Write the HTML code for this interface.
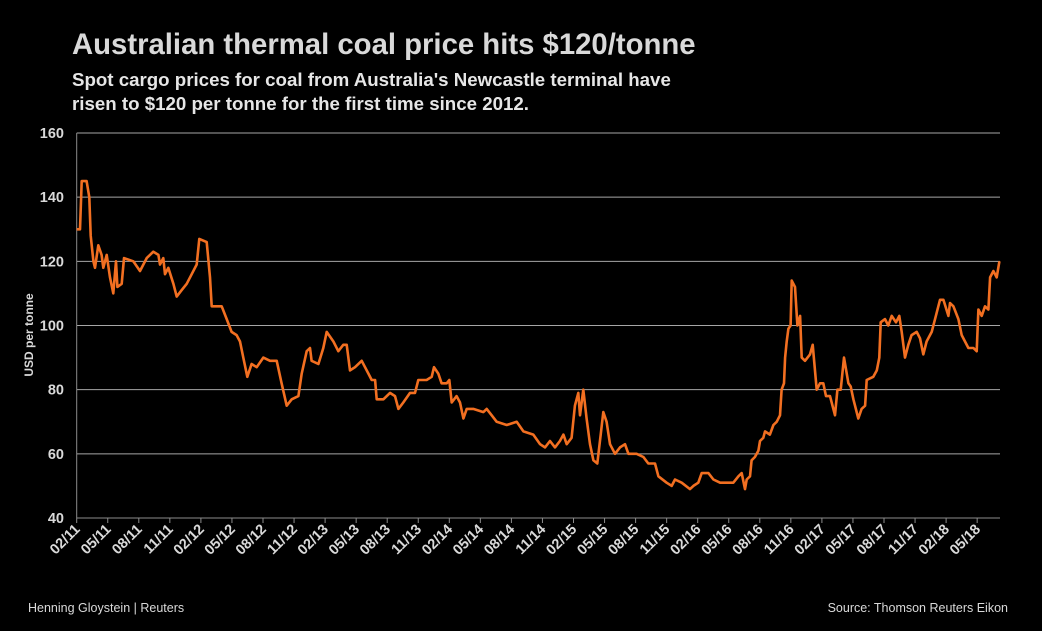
<!DOCTYPE html>
<html><head><meta charset="utf-8"><style>
body{margin:0;background:#000;width:1042px;height:631px;overflow:hidden;font-family:"Liberation Sans",sans-serif}
svg{display:block}
</style></head><body>
<svg id="chart" width="1042" height="631">
<rect width="1042" height="631" fill="#000"/>
<text x="72" y="54" fill="#d9d9d9" font-size="29.3" font-weight="bold">Australian thermal coal price hits $120/tonne</text>
<text x="72" y="86" fill="#e6e6e6" font-size="18.7" font-weight="bold">Spot cargo prices for coal from Australia's Newcastle terminal have</text>
<text x="72" y="110" fill="#e6e6e6" font-size="18.7" font-weight="bold">risen to $120 per tonne for the first time since 2012.</text>
<text transform="translate(33,335) rotate(-90)" text-anchor="middle" fill="#d9d9d9" font-size="12" font-weight="bold">USD per tonne</text>
<g id="grid"></g><g id="xaxis"></g>
<path id="line" fill="none" stroke="#f26f21" stroke-width="2.6" stroke-linejoin="round"/>
<text x="28" y="612" fill="#d9d9d9" font-size="12.5">Henning Gloystein | Reuters</text>
<text x="1008" y="612" text-anchor="end" fill="#d9d9d9" font-size="12.5">Source: Thomson Reuters Eikon</text>
</svg>
<script>
const yTicks=[40,60,80,100,120,140,160];
const xTickLabels=["02/11","05/11","08/11","11/11","02/12","05/12","08/12","11/12","02/13","05/13","08/13","11/13","02/14","05/14","08/14","11/14","02/15","05/15","08/15","11/15","02/16","05/16","08/16","11/16","02/17","05/17","08/17","11/17","02/18","05/18"];
// months elapsed since Feb 2011
const months=[0,0.32,0.48,0.96,1.22,1.35,1.61,1.77,2.09,2.41,2.57,2.9,3.22,3.54,3.8,3.93,4.35,4.57,5.47,6.12,6.76,7.4,7.89,8.05,8.37,8.53,8.85,9.34,9.66,10.14,10.63,11.11,11.59,11.85,12.56,12.88,13.04,14.01,14.49,14.97,15.45,15.78,16.1,16.48,16.9,17.39,18.03,18.68,19.32,19.8,20.29,20.77,21.42,21.74,22.22,22.54,22.7,23.35,23.83,24.15,24.8,25.28,25.76,26.09,26.41,26.89,27.54,28.18,28.5,28.83,28.99,29.63,30.27,30.75,31.08,31.56,32.2,32.69,33.0,33.81,34.3,34.52,34.94,35.26,35.75,36.0,36.23,36.71,37.03,37.36,37.68,38.32,39.29,39.61,40.1,40.58,41.55,42.51,43.16,44.12,44.77,45.25,45.73,46.21,46.69,47.02,47.34,47.82,48.14,48.46,48.63,48.95,49.27,49.59,49.92,50.3,50.63,50.88,51.2,51.53,52.01,52.49,52.98,53.3,54.1,54.75,55.23,55.87,56.2,57.0,57.49,57.81,58.45,59.26,59.58,60.06,60.39,61.03,61.52,62.16,62.8,63.44,63.93,64.25,64.57,64.73,65.05,65.21,65.53,65.86,66.02,66.34,66.5,66.98,67.31,67.63,67.95,68.11,68.34,68.44,68.6,68.76,68.98,69.08,69.4,69.63,69.89,70.05,70.37,70.85,71.11,71.5,71.82,72.14,72.4,72.78,73.27,73.5,73.82,74.14,74.56,74.78,75.04,75.52,75.84,76.17,76.33,76.97,77.3,77.55,77.68,78.1,78.42,78.74,79.16,79.48,79.71,80.03,80.35,80.67,81.16,81.48,81.8,82.12,82.61,83.09,83.41,83.74,84.22,84.38,84.71,85.19,85.51,85.83,86.15,86.64,86.96,87.12,87.44,87.76,88.09,88.25,88.57,88.89,89.15];
const prices=[130,130,145,145,140,128,120,118,125,122,118,122,115,110,120,112,113,121,120,117,121,123,122,119,121,116,118,113,109,111,113,116,119,127,126,115,106,106,102,98,97,95,90,84,88,87,90,89,89,82,75,77,78,85,92,93,89,88,93,98,95,92,94,94,86,87,89,85,83,83,77,77,79,78,74,76,79,79,83,83,84,87,85,82,82,83,76,78,76,71,74,74,73,74,72,70,69,70,67,66,63,62,64,62,64,66,63,65,75,79,72,80,71,63,58,57,66,73,70,63,60,62,63,60,60,59,57,57,53,51,50,52,51,49,50,51,54,54,52,51,51,51,53,54,49,52,53,58,59,61,64,65,67,66,69,70,72,80,82,90,95,99,100,114,112,100,103,90,89,91,94,80,82,82,78,78,72,80,80,90,82,81,77,71,74,75,83,84,86,90,101,102,100,103,101,103,98,90,94,97,98,96,91,95,98,104,108,108,103,107,106,102,97,95,93,93,92,105,103,106,105,115,117,115,120];
const X0=76.7,MW=10.35,Y0=133,PU=385/120;
const xs=m=>X0+m*MW, ys=v=>Y0+(160-v)*PU;
const NS="http://www.w3.org/2000/svg";
const g=document.getElementById('grid'), xa=document.getElementById('xaxis');
yTicks.forEach(t=>{
  const l=document.createElementNS(NS,'line');
  l.setAttribute('x1',X0);l.setAttribute('x2',1000);l.setAttribute('y1',ys(t));l.setAttribute('y2',ys(t));
  l.setAttribute('stroke',t===40?'#8c8c8c':'#a6a6a6');l.setAttribute('stroke-width','1');
  
  
  g.appendChild(l);
  const tx=document.createElementNS(NS,'text');
  tx.setAttribute('x',64);tx.setAttribute('y',ys(t)+5);tx.setAttribute('text-anchor','end');
  tx.setAttribute('fill','#d9d9d9');tx.setAttribute('font-size','14.5');tx.setAttribute('font-weight','bold');
  tx.textContent=t;
  
  
  g.appendChild(tx);
});
const va=document.createElementNS(NS,'line');
va.setAttribute('x1',X0);va.setAttribute('x2',X0);va.setAttribute('y1',Y0);va.setAttribute('y2',ys(40));
va.setAttribute('stroke','#8c8c8c');


g.appendChild(va);
xTickLabels.forEach((lab,i)=>{
  const x=xs(i*3);
  const tk=document.createElementNS(NS,'line');
  tk.setAttribute('x1',x);tk.setAttribute('x2',x);tk.setAttribute('y1',ys(40));tk.setAttribute('y2',ys(40)+5);
  tk.setAttribute('stroke','#8c8c8c');
  
  
  xa.appendChild(tk);
  const tx=document.createElementNS(NS,'text');
  tx.setAttribute('transform',`translate(${x+4},${ys(40)+12}) rotate(-45)`);
  tx.setAttribute('text-anchor','end');tx.setAttribute('fill','#d9d9d9');
  tx.setAttribute('font-size','14.5');tx.setAttribute('font-weight','bold');
  tx.textContent=lab;
  
  
  xa.appendChild(tx);
});
document.getElementById('line').setAttribute('d',months.map((m,i)=>(i?'L':'M')+xs(m).toFixed(1)+','+ys(prices[i]).toFixed(1)).join(''));
</script>
</body></html>
